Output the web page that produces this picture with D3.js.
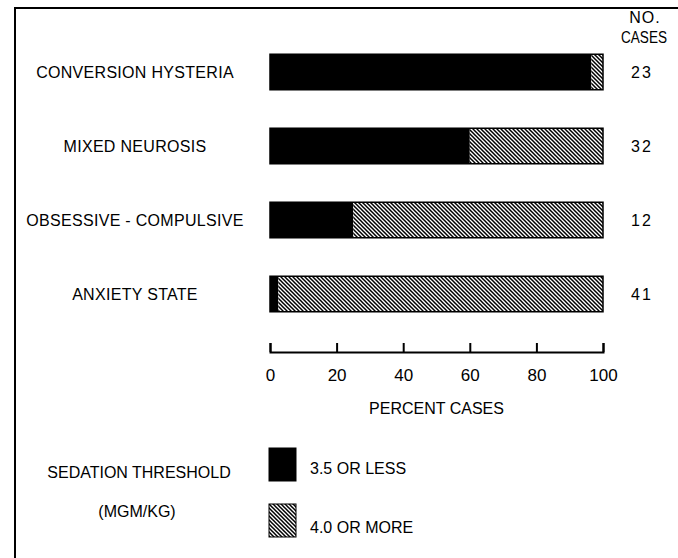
<!DOCTYPE html>
<html>
<head>
<meta charset="utf-8">
<script src="https://cdn.jsdelivr.net/npm/d3@7"></script>
<style>
  body { margin: 0; background: #fff; }
  svg text { font-family: "Liberation Sans", Arial, sans-serif; fill: #000; }
</style>
</head>
<body>
<div id="chart-area"></div>
<script>
// sedation threshold chart - percent of cases per diagnosis

const categories = ["CONVERSION HYSTERIA", "MIXED NEUROSIS", "OBSESSIVE - COMPULSIVE", "ANXIETY STATE"];
const lowPct = [96.5, 60, 25, 2.5];   // 3.5 or less
const highPct = [3.5, 40, 75, 97.5];  // 4.0 or more
const cases = [23, 32, 12, 41];
const tickVals = [0, 20, 40, 60, 80, 100];
const legendLabels = ["3.5 OR LESS", "4.0 OR MORE"];

let width = 678, height = 558;

let svg = d3.select("#chart-area")
  .append("svg")
  .attr("width", width)
  .attr("height", height);

// hatch pattern for the "4.0 or more" part
let defs = svg.append("defs");
let pat = defs.append("pattern")
  .attr("id", "hatch")
  .attr("patternUnits", "userSpaceOnUse")
  .attr("width", 4)
  .attr("height", 4);
pat.append("rect").attr("width", 4).attr("height", 4).attr("fill", "#fff");
pat.append("path")
  .attr("d", "M-1,-1L5,5M-1,3L1,5M3,-1L5,1")
  .attr("stroke", "#000")
  .attr("stroke-width", 1.5);

// frame (only top and left visible)
svg.append("path")
  .attr("d", "M15,558V8H678")
  .attr("fill", "none")
  .attr("stroke", "#000")
  .attr("stroke-width", 2);

// scales
let x = d3.scaleLinear().domain([0, 100]).range([270, 603]);
let y = d3.scaleBand().domain(categories).range([35, 331])
  .paddingInner(0.52).paddingOuter(0.26);

let rows = categories.map((c, i) => ({ cat: c, low: lowPct[i], high: highPct[i], n: cases[i] }));

// bars
let g = svg.append("g");
g.selectAll(".low")
  .data(rows)
  .enter()
  .append("rect")
  .attr("class", "low")
  .attr("x", x(0))
  .attr("y", d => y(d.cat))
  .attr("width", d => x(d.low) - x(0))
  .attr("height", y.bandwidth())
  .attr("fill", "#000");

g.selectAll(".high")
  .data(rows)
  .enter()
  .append("rect")
  .attr("class", "high")
  .attr("x", d => x(d.low))
  .attr("y", d => y(d.cat))
  .attr("width", d => x(d.low + d.high) - x(d.low))
  .attr("height", y.bandwidth())
  .attr("fill", "url(#hatch)");

// outline around each bar
g.selectAll(".outline")
  .data(rows)
  .enter()
  .append("rect")
  .attr("class", "outline")
  .attr("x", x(0))
  .attr("y", d => y(d.cat))
  .attr("width", x(100) - x(0))
  .attr("height", y.bandwidth())
  .attr("fill", "none")
  .attr("stroke", "#000")
  .attr("stroke-width", 1.5);

// category labels
svg.selectAll(".cat-label")
  .data(rows)
  .enter()
  .append("text")
  .attr("class", "cat-label")
  .attr("x", 135)
  .attr("y", d => y(d.cat) + y.bandwidth() / 2)
  .attr("dy", "0.36em")
  .attr("text-anchor", "middle")
  .attr("font-size", 16)
  .attr("letter-spacing", 0.3)
  .text(d => d.cat);

// number of cases
svg.selectAll(".n-label")
  .data(rows)
  .enter()
  .append("text")
  .attr("class", "n-label")
  .attr("x", 642)
  .attr("y", d => y(d.cat) + y.bandwidth() / 2)
  .attr("dy", "0.36em")
  .attr("text-anchor", "middle")
  .attr("font-size", 16)
  .attr("letter-spacing", 2)
  .text(d => d.n);

svg.append("text")
  .attr("x", 645).attr("y", 17).attr("dy", "0.36em")
  .attr("text-anchor", "middle").attr("font-size", 16)
  .attr("letter-spacing", 1)
  .text("NO.");
svg.append("text")
  .attr("x", 644).attr("y", 37).attr("dy", "0.36em")
  .attr("text-anchor", "middle").attr("font-size", 16)
  .attr("textLength", 46).attr("lengthAdjust", "spacingAndGlyphs")
  .text("CASES");

// x axis
let xAxis = d3.axisBottom(x).tickValues(tickVals).tickSize(-9).tickPadding(17);
let xAxisGroup = svg.append("g")
  .attr("class", "x-axis axis")
  .attr("transform", "translate(0,352)")
  .call(xAxis);
xAxisGroup.selectAll("path, line").attr("stroke", "#000").attr("stroke-width", 2);
xAxisGroup.selectAll("text")
  .attr("font-size", 17)
  .attr("font-family", "\"DejaVu Sans\", sans-serif")
  .attr("fill", "#000");

svg.append("text")
  .attr("x", (x(0) + x(100)) / 2)
  .attr("y", 408)
  .attr("dy", "0.36em")
  .attr("text-anchor", "middle")
  .attr("font-size", 16)
  .text("PERCENT CASES");

// legend
svg.append("text")
  .attr("x", 139).attr("y", 472).attr("dy", "0.36em")
  .attr("text-anchor", "middle").attr("font-size", 16)
  .text("SEDATION THRESHOLD");
svg.append("text")
  .attr("x", 137).attr("y", 511).attr("dy", "0.36em")
  .attr("text-anchor", "middle").attr("font-size", 16)
  .text("(MGM/KG)");

let legendY = [448, 504];
let legendFill = ["#000", "url(#hatch)"];
let lg = svg.selectAll(".legend")
  .data(legendLabels)
  .enter()
  .append("g")
  .attr("class", "legend")
  .attr("transform", (d, i) => "translate(269," + legendY[i] + ")");
lg.append("rect")
  .attr("width", 27)
  .attr("height", 33)
  .attr("fill", (d, i) => legendFill[i])
  .attr("stroke", "#000")
  .attr("stroke-width", 1);
lg.append("text")
  .attr("x", 41)
  .attr("y", (d, i) => i === 0 ? 20 : 23)
  .attr("dy", "0.36em")
  .attr("font-size", 16)
  .text(d => d);
</script>
</body>
</html>
